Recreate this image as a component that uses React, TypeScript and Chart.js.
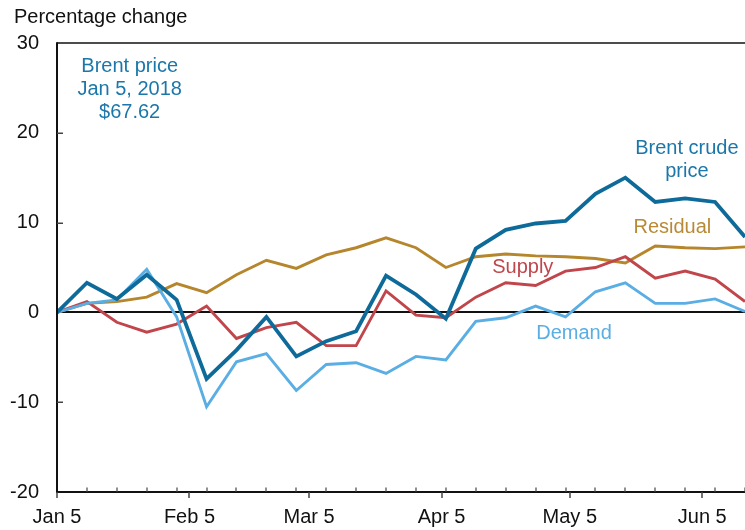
import React, { useEffect, useRef } from "react";
import { Chart, registerables } from "chart.js";

Chart.register(...registerables);

// ---- Data ----
const weekDates = [
  "2018-01-05", "2018-01-12", "2018-01-19", "2018-01-26",
  "2018-02-02", "2018-02-09", "2018-02-16", "2018-02-23",
  "2018-03-02", "2018-03-09", "2018-03-16", "2018-03-23", "2018-03-30",
  "2018-04-06", "2018-04-13", "2018-04-20", "2018-04-27",
  "2018-05-04", "2018-05-11", "2018-05-18", "2018-05-25",
  "2018-06-01", "2018-06-08", "2018-06-15",
];

const brentValues = [0, 3.3, 1.5, 4.2, 1.4, -7.4, -4.2, -0.5, -4.9, -3.2, -2.1, 4.1, 2.0, -0.7, 7.1, 9.2, 9.9, 10.2, 13.2, 15.0, 12.3, 12.7, 12.3, 8.4];
const residualValues = [0, 1.0, 1.2, 1.7, 3.2, 2.2, 4.2, 5.8, 4.9, 6.4, 7.2, 8.3, 7.2, 5.0, 6.2, 6.5, 6.3, 6.2, 6.0, 5.5, 7.4, 7.2, 7.1, 7.3];
const supplyValues = [0, 1.2, -1.1, -2.2, -1.3, 0.7, -2.9, -1.7, -1.1, -3.7, -3.7, 2.4, -0.3, -0.6, 1.7, 3.3, 3.0, 4.6, 5.0, 6.2, 3.8, 4.6, 3.7, 1.2];
const demandValues = [0, 1.0, 1.4, 4.8, -0.5, -10.5, -5.5, -4.6, -8.7, -5.8, -5.6, -6.8, -4.9, -5.3, -1.0, -0.6, 0.7, -0.5, 2.3, 3.3, 1.0, 1.0, 1.5, 0.1];

const xTickDates = ["2018-01-05", "2018-02-05", "2018-03-05", "2018-04-05", "2018-05-05", "2018-06-05"];
const xTickLabels = ["Jan 5", "Feb 5", "Mar 5", "Apr 5", "May 5", "Jun 5"];
const yTickValues = [-20, -10, 0, 10, 20, 30];

const yAxisTitle = "Percentage change";

// ---- Helpers ----
const BASE = Date.UTC(2018, 0, 5);
const dayOf = (iso: string) => Math.round((new Date(iso + "T00:00:00Z").getTime() - BASE) / 86400000);
const weekDays = weekDates.map(dayOf);
const tickDays = xTickDates.map(dayOf);
const toPoints = (vals: number[]) => vals.map((v, i) => ({ x: weekDays[i], y: v }));

const FONT = '"Liberation Sans", Arial, sans-serif';
const FONT_SIZE = 20;

const COLORS = {
  brent: "#0d6a99",
  brentText: "#1b77a9",
  residual: "#b6862c",
  residualText: "#b98a36",
  supply: "#c0464c",
  demand: "#5aaee3",
};

// annotations in data coordinates (day offset, value)
const annotations = [
  { lines: ["Brent price", "Jan 5, 2018", "$67.62"], date: "2018-01-22", y: 27.35, color: COLORS.brentText },
  { lines: ["Brent crude", "price"], date: "2018-06-01", y: 18.3, color: COLORS.brentText, dx: 0.4 },
  { lines: ["Residual"], date: "2018-05-29", y: 9.5, color: COLORS.residualText },
  { lines: ["Supply"], date: "2018-04-24", y: 5.0, color: COLORS.supply },
  { lines: ["Demand"], date: "2018-05-06", y: -2.3, color: COLORS.demand },
];

const framePlugin = {
  id: "frame",
  beforeDatasetsDraw(chart: any) {
    const { ctx, chartArea: a, scales } = chart;
    const y = scales.y;
    ctx.save();
    ctx.strokeStyle = "#111";
    ctx.lineWidth = 2;
    const y0 = Math.round(y.getPixelForValue(0));
    ctx.beginPath();
    ctx.moveTo(a.left, y0);
    ctx.lineTo(a.right, y0);
    ctx.stroke();
    ctx.restore();
  },
  afterDatasetsDraw(chart: any) {
    const { ctx, chartArea: a, scales } = chart;
    const x = scales.x;
    const y = scales.y;
    ctx.save();
    ctx.strokeStyle = "#111";
    // top border
    ctx.lineWidth = 1.5;
    ctx.beginPath();
    ctx.moveTo(a.left, a.top);
    ctx.lineTo(a.right, a.top);
    ctx.stroke();
    // left & bottom axes
    ctx.lineWidth = 2;
    ctx.beginPath();
    ctx.moveTo(a.left, a.top - 0.75);
    ctx.lineTo(a.left, a.bottom);
    ctx.lineTo(a.right, a.bottom);
    ctx.stroke();
    // y ticks (inward)
    ctx.lineWidth = 1.5;
    ctx.strokeStyle = "#444";
    yTickValues.forEach((v) => {
      if (v === -20 || v === 0 || v === 30) return;
      const py = Math.round(y.getPixelForValue(v)) + 0.25;
      ctx.beginPath();
      ctx.moveTo(a.left, py);
      ctx.lineTo(a.left + 6, py);
      ctx.stroke();
    });
    // x minor ticks (weekly, upward)
    ctx.lineWidth = 1.2;
    weekDays.forEach((d) => {
      const px = Math.round(x.getPixelForValue(d));
      if (px <= a.left + 1) return;
      ctx.beginPath();
      ctx.moveTo(px, a.bottom);
      ctx.lineTo(px, a.bottom - 4.5);
      ctx.stroke();
    });
    // x major ticks (downward)
    ctx.lineWidth = 1.5;
    tickDays.forEach((d) => {
      const px = Math.round(x.getPixelForValue(d));
      ctx.beginPath();
      ctx.moveTo(px, a.bottom);
      ctx.lineTo(px, a.bottom + 6);
      ctx.stroke();
    });
    ctx.restore();
  },
  afterDraw(chart: any) {
    const { ctx, scales } = chart;
    const x = scales.x;
    const y = scales.y;
    ctx.save();
    ctx.font = `${FONT_SIZE}px ${FONT}`;
    ctx.textBaseline = "middle";
    // axis title
    ctx.fillStyle = "#111";
    ctx.textAlign = "left";
    ctx.fillText(yAxisTitle, 14, 17);
    // annotations
    ctx.textAlign = "center";
    annotations.forEach((an: any) => {
      const cx = x.getPixelForValue(dayOf(an.date) + (an.dx || 0));
      const cy = y.getPixelForValue(an.y);
      ctx.fillStyle = an.color;
      an.lines.forEach((ln: string, i: number) => {
        ctx.fillText(ln, cx, cy + i * 23);
      });
    });
    ctx.restore();
  },
};

export default function App() {
  const ref = useRef<HTMLCanvasElement | null>(null);

  useEffect(() => {
    if (!ref.current) return;
    const ds = (label: string, vals: number[], color: string, width: number, order: number) => ({
      label,
      data: toPoints(vals),
      borderColor: color,
      backgroundColor: color,
      borderWidth: width,
      pointRadius: 0,
      tension: 0,
      fill: false,
      order,
      borderJoinStyle: "miter" as const,
    });
    const chart = new Chart(ref.current, {
      type: "line",
      data: {
        datasets: [
          ds("Brent crude price", brentValues, COLORS.brent, 3.8, 0),
          ds("Demand", demandValues, COLORS.demand, 2.9, 1),
          ds("Supply", supplyValues, COLORS.supply, 2.9, 2),
          ds("Residual", residualValues, COLORS.residual, 2.9, 3),
        ],
      },
      options: {
        animation: false,
        responsive: false,
        maintainAspectRatio: false,
        devicePixelRatio: 1,
        layout: { padding: { top: 43, left: 0, right: 0, bottom: 0 } },
        plugins: { legend: { display: false }, tooltip: { enabled: false } },
        scales: {
          x: {
            type: "linear",
            min: 0,
            max: weekDays[weekDays.length - 1],
            grid: { display: false, drawTicks: false },
            border: { display: false },
            afterBuildTicks: (scale: any) => {
              scale.ticks = tickDays.map((v) => ({ value: v }));
            },
            afterFit: (scale: any) => {
              scale.height = 38;
            },
            ticks: {
              autoSkip: false,
              maxRotation: 0,
              padding: 13,
              color: "#111",
              font: { family: FONT, size: FONT_SIZE },
              callback: (v: any) => {
                const idx = tickDays.indexOf(Number(v));
                return idx >= 0 ? xTickLabels[idx] : "";
              },
            },
          },
          y: {
            type: "linear",
            min: -20,
            max: 30,
            grid: { display: false, drawTicks: false },
            border: { display: false },
            afterBuildTicks: (scale: any) => {
              scale.ticks = yTickValues.map((v) => ({ value: v }));
            },
            afterFit: (scale: any) => {
              scale.width = 57;
            },
            ticks: {
              padding: 18,
              color: "#111",
              font: { family: FONT, size: FONT_SIZE },
            },
          },
        },
      },
      plugins: [framePlugin],
    });
    return () => chart.destroy();
  }, []);

  return (
    <div style={{ position: "absolute", left: 0, top: 0, width: 745, height: 530, background: "#fff" }}>
      <canvas ref={ref} width={745} height={530} style={{ display: "block", width: 745, height: 530 }} />
    </div>
  );
}
